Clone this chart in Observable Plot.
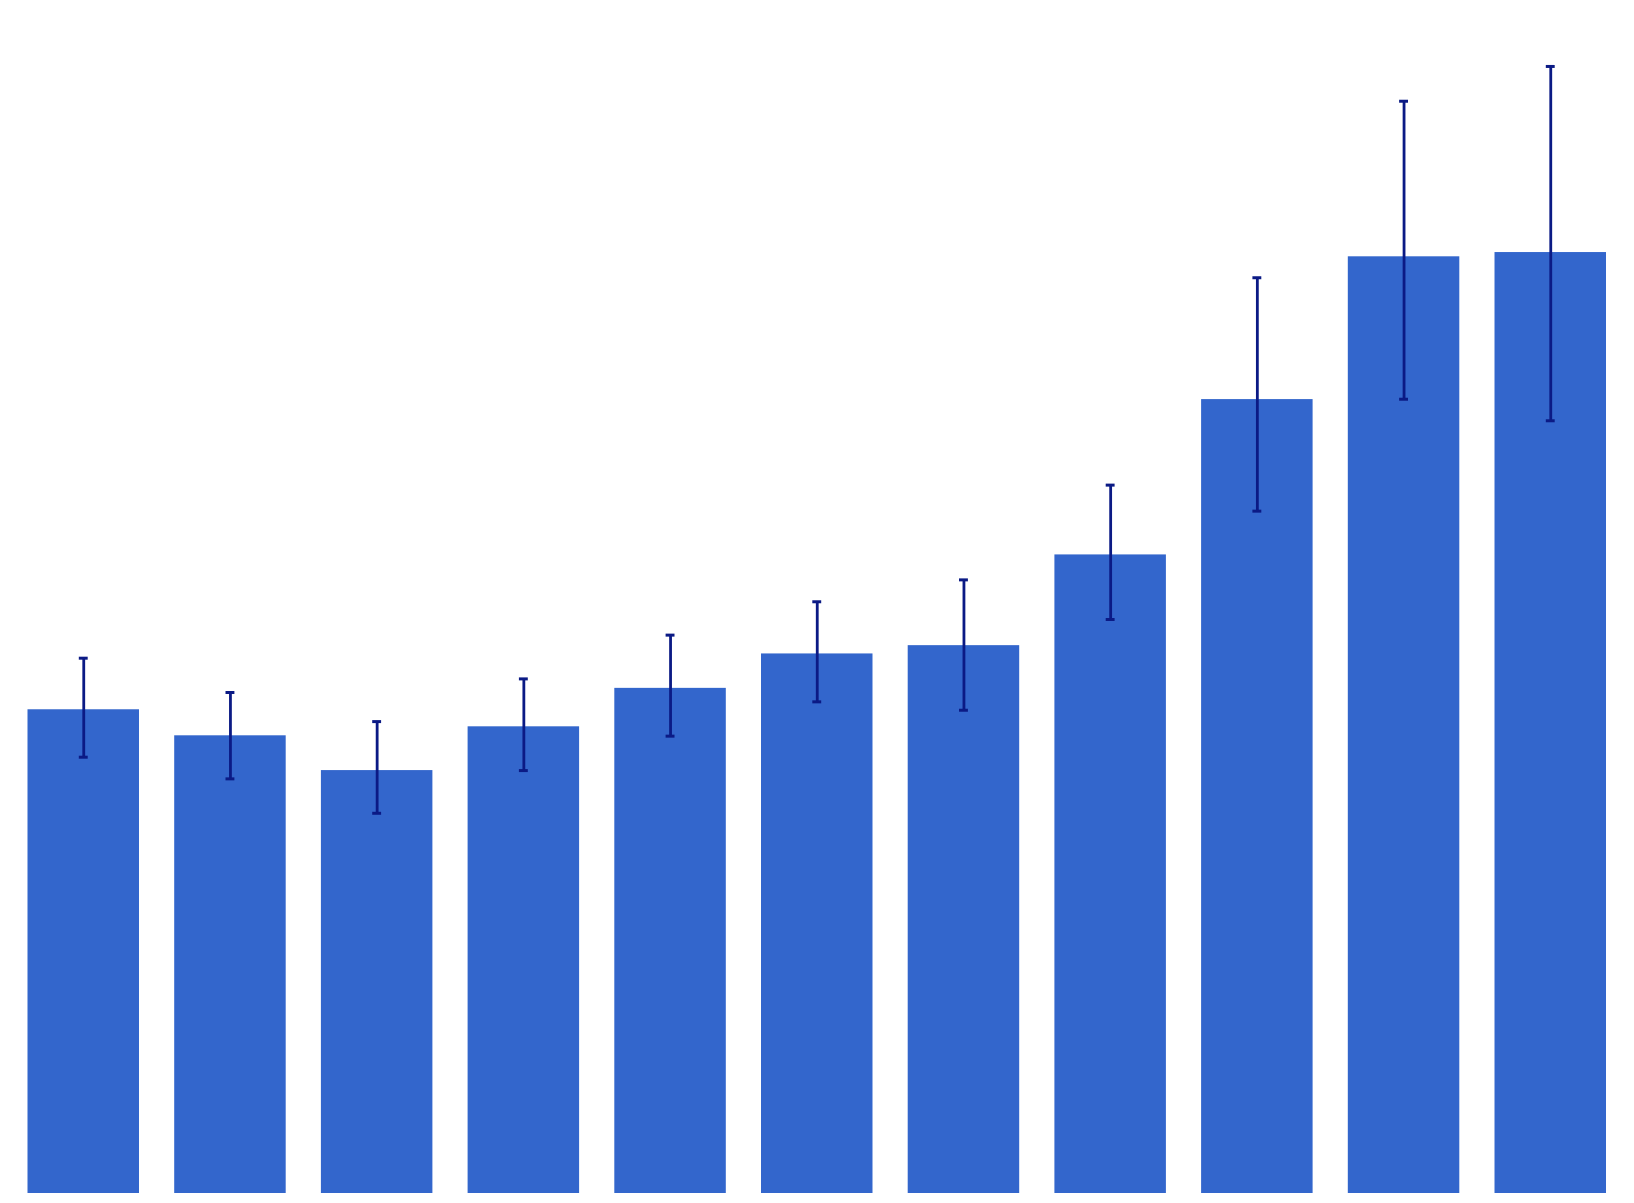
<!DOCTYPE html>
<html>
<head>
<meta charset="utf-8">
<script src="https://cdn.jsdelivr.net/npm/d3@7"></script>
<script src="https://cdn.jsdelivr.net/npm/@observablehq/plot@0.6"></script>
<style>
  html, body { margin: 0; padding: 0; background: #ffffff; }
  #chart svg { display: block; }
</style>
</head>
<body>
<div id="chart"></div>
<script>
const categories = ["1", "2", "3", "4", "5", "6", "7", "8", "9", "10", "11"];
const values     = [40.89, 38.69, 35.75, 39.45, 42.70, 45.61, 46.31, 53.98, 67.11, 79.18, 79.54];
const errHigh    = [45.25, 42.35, 39.89, 43.50, 47.20, 50.02, 51.87, 59.88, 77.41, 92.33, 95.27];
const errLow     = [36.88, 35.05, 32.14, 35.75, 38.66, 41.56, 40.85, 48.52, 57.68, 67.14, 65.32];

const data = categories.map((c, i) => ({cat: c, value: values[i], hi: errHigh[i], lo: errLow[i]}));

const barColor = "#3366cc";
const errColor = "#0b1a85";

const chart = Plot.plot({
  width: 1634,
  height: 1203,
  marginLeft: 27.5,
  marginRight: 28,
  marginTop: 10,
  marginBottom: 10,
  x: {domain: categories, axis: null, paddingInner: 0.24, paddingOuter: 0, round: false},
  y: {domain: [0, 100], axis: null},
  marks: [
    Plot.barY(data, {x: "cat", y: "value", fill: barColor}),
    Plot.ruleX(data, {x: "cat", y1: "lo", y2: "hi", stroke: errColor, strokeWidth: 2.8}),
    Plot.tickY(data, {x: "cat", y: "hi", stroke: errColor, strokeWidth: 3, insetLeft: 51.3, insetRight: 51.3}),
    Plot.tickY(data, {x: "cat", y: "lo", stroke: errColor, strokeWidth: 3, insetLeft: 51.3, insetRight: 51.3})
  ]
});
document.getElementById("chart").appendChild(chart);
</script>
</body>
</html>
